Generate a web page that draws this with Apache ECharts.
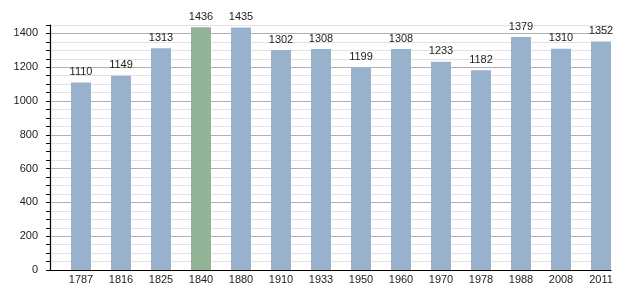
<!DOCTYPE html>
<html><head><meta charset="utf-8">
<script src="https://cdn.jsdelivr.net/npm/echarts@6/dist/echarts.min.js"></script>
<style>html,body{margin:0;padding:0;background:#fff}#c{width:630px;height:300px}</style>
</head><body><div id="c"></div>
<script>
const years = ['1787','1816','1825','1840','1880','1910','1933','1950','1960','1970','1978','1988','2008','2011'];
const population = [1110,1149,1313,1436,1435,1302,1308,1199,1308,1233,1182,1379,1310,1352];
const highlightYear = '1840';
const yMin = 0, yMax = 1450, yStep = 50, yLabelStep = 200;

const chart = echarts.init(document.getElementById('c'), null, {renderer:'canvas'});
const font = 'Liberation Sans, Arial, sans-serif';
chart.setOption({
  animation: false,
  backgroundColor: '#fff',
  grid: [
    {left: 50, top: 25, width: 561, height: 245},
    {left: 61, top: 25, width: 560, height: 245}
  ],
  xAxis: [
    {gridIndex: 0, type: 'value', min: 0, max: 1,
     axisLine: {show: true, onZero: false, lineStyle: {color: '#000', width: 1.2}},
     axisTick: {show: false}, axisLabel: {show: false}, splitLine: {show: false}},
    {gridIndex: 1, type: 'category', data: years,
     axisLine: {show: false}, axisTick: {show: false},
     axisLabel: {color: '#222', fontSize: 11, fontFamily: font, margin: 4}}
  ],
  yAxis: [
    {gridIndex: 0, type: 'value', min: yMin, max: yMax, interval: yStep,
     axisLine: {show: true, lineStyle: {color: '#000', width: 1.2}},
     axisTick: {show: true, length: 4, lineStyle: {color: '#000'}},
     axisLabel: {color: '#222', fontSize: 11, fontFamily: font, margin: 12,
       formatter: v => (v % yLabelStep === 0 ? String(v) : '')},
     splitLine: {show: true, lineStyle: {color: ['#b0b0b0','#e2e2e2','#e2e2e2','#e2e2e2'], width: 1}}},
    {gridIndex: 1, type: 'value', min: yMin, max: yMax, show: false, splitLine: {show: false}}
  ],
  series: [{
    type: 'bar', xAxisIndex: 1, yAxisIndex: 1,
    data: population, barWidth: 20,
    itemStyle: {color: p => (years[p.dataIndex] === highlightYear ? '#93b396' : '#98b2ce')},
    label: {show: true, position: 'top', distance: 5, color: '#222', fontSize: 11, fontFamily: font}
  }]
});
</script></body></html>
